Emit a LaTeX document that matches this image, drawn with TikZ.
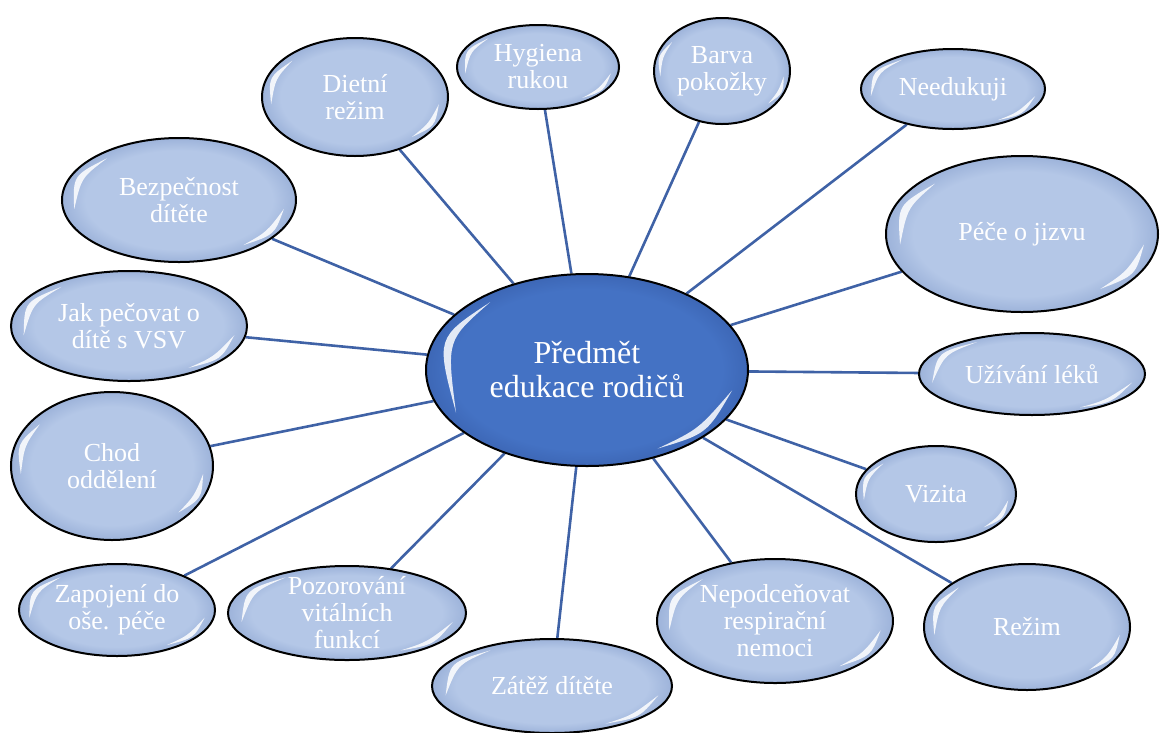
\documentclass[tikz,border=0pt]{standalone}
\usepackage{fontspec}
\setmainfont{Liberation Serif}
\usetikzlibrary{shapes.geometric,calc,backgrounds}

\definecolor{bubblefill}{HTML}{B4C7E7}
\definecolor{bubbleedge}{HTML}{9DB3DA}
\definecolor{hubfill}{HTML}{4472C4}
\definecolor{hubedge}{HTML}{3D67B6}
\definecolor{linkcol}{HTML}{3F62A6}

\pgfdeclareradialshading{bubbleshade}{\pgfpoint{0bp}{0bp}}{color(0bp)=(bubblefill); color(20bp)=(bubblefill); color(25bp)=(bubbleedge); color(50bp)=(bubbleedge)}
\pgfdeclareradialshading{hubshade}{\pgfpoint{0bp}{0bp}}{color(0bp)=(hubfill); color(21bp)=(hubfill); color(25bp)=(hubedge); color(50bp)=(hubedge)}

\tikzset{
  bubble/.style={ellipse, draw=black, line width=2pt, shade, shading=bubbleshade, inner sep=0pt},
  hub/.style={ellipse, draw=black, line width=2pt, shade, shading=hubshade, inner sep=0pt},
  bubbletext/.style={text=white, align=center, font=\fontsize{26}{27}\selectfont},
  hubtext/.style={text=white, align=center, font=\fontsize{32}{34}\selectfont},
  link/.style={linkcol, line width=2.6pt},
  gloss/.style={fill=white, opacity=0.85}
}

\begin{document}
\begin{tikzpicture}[x=1pt,y=-1pt]
\useasboundingbox (0,0) rectangle (1160,732);

% Centre
\node[hub, minimum width=322pt, minimum height=192pt] (hub) at (587,370) {};
\node[hubtext] at (hub) {Předmět\\edukace rodičů};
\fill[gloss] ($(hub.center)!0.92!(hub.145)$) .. controls ($(hub.center)!0.99!(hub.168)$) .. ($(hub.center)!0.92!(hub.198)$) .. controls ($(hub.center)!0.92!(hub.168)$) .. cycle;
\fill[gloss] ($(hub.center)!0.92!(hub.-8)$) .. controls ($(hub.center)!0.99!(hub.-28)$) .. ($(hub.center)!0.92!(hub.-48)$) .. controls ($(hub.center)!0.92!(hub.-28)$) .. cycle;

% Topics
\foreach \name/\x/\y/\w/\h/\txt in {
  diet/355/97/186/118/{Dietní\\režim},
  hyg/538/67/162/84/{Hygiena\\rukou},
  barva/722/71/136/106/{Barva\\pokožky},
  need/953/89/184/80/{Needukuji},
  pece/1022/234/272/156/{Péče o jizvu},
  uziv/1032/374/226/82/{Užívání léků},
  viz/936/494/160/96/{Vizita},
  rezim/1027/627/206/126/{Režim},
  nepod/775/621/236/124/{Nepodceňovat\\respirační\\nemoci},
  zatez/552/686/240/94/{Zátěž dítěte},
  pozor/347/613/238/94/{Pozorování\\vitálních\\funkcí},
  zapoj/117/610/196/92/{Zapojení do\\oše. péče},
  chod/112/466/202/148/{Chod\\oddělení},
  jak/129/326/236/110/{Jak pečovat o\\dítě s VSV},
  bezp/179/200/234/124/{Bezpečnost\\dítěte}}
{
  \node[bubble, minimum width=\w pt, minimum height=\h pt] (\name) at (\x,\y) {};
  \node[bubbletext] at (\name) {\txt};
  \fill[gloss] ($(\name.center)!0.9!(\name.150)$) .. controls ($(\name.center)!0.98!(\name.167)$) .. ($(\name.center)!0.9!(\name.185)$) .. controls ($(\name.center)!0.9!(\name.167)$) .. cycle;
  \fill[gloss] ($(\name.center)!0.9!(\name.-5)$) .. controls ($(\name.center)!0.98!(\name.-20)$) .. ($(\name.center)!0.9!(\name.-35)$) .. controls ($(\name.center)!0.9!(\name.-20)$) .. cycle;
  \begin{scope}[on background layer]
    \draw[link] (hub) -- (\name);
  \end{scope}
}
\end{tikzpicture}
\end{document}
